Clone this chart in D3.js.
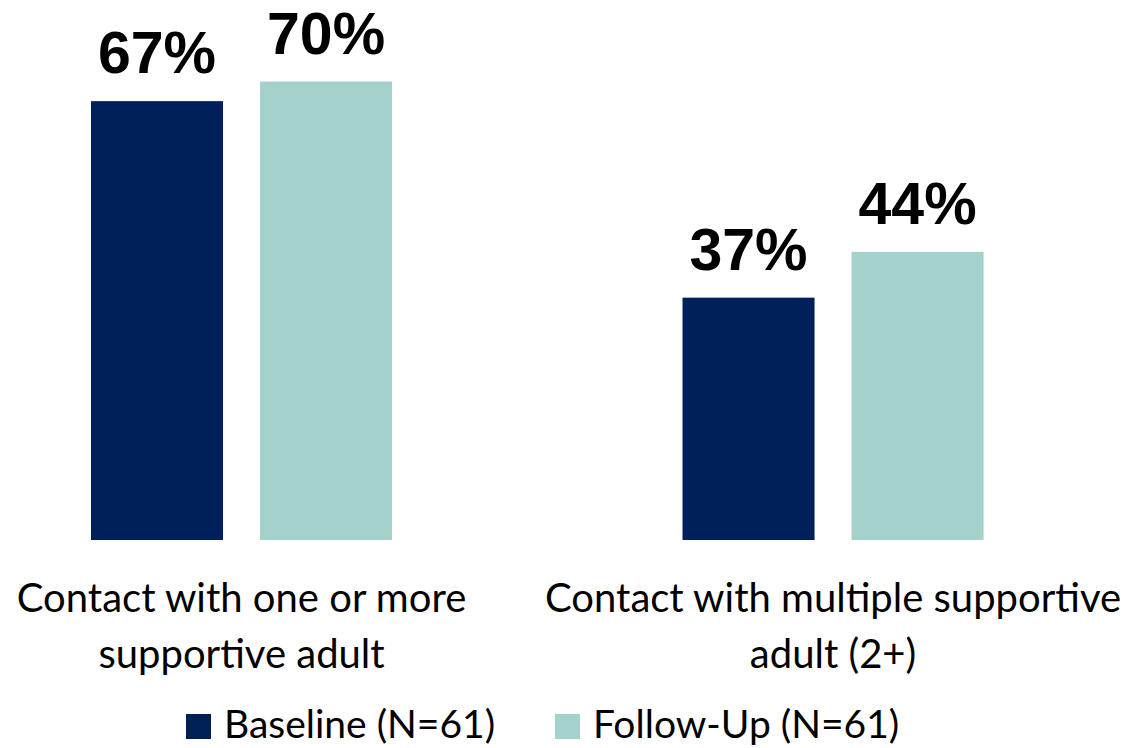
<!DOCTYPE html>
<html>
<head>
<meta charset="utf-8">
<script src="https://cdn.jsdelivr.net/npm/d3@7"></script>
<style>
  html, body { margin: 0; padding: 0; background: #fff; }
  svg { display: block; }
</style>
</head>
<body>
<svg id="chart" width="1133" height="748"></svg>
<script>
const categories = [
  ["Contact with one or more", "supportive adult"],
  ["Contact with multiple supportive", "adult (2+)"]
];
const categoryKeys = ["one", "multiple"];
const seriesNames = ["Baseline (N=61)", "Follow-Up (N=61)"];
const baseline = [67, 37];
const followUp = [70, 44];
const colors = ["#00205B", "#A3D2CC"];

const svg = d3.select("#chart");

const x0 = d3.scaleBand().domain(categoryKeys).range([91, 983.6]).paddingInner(0.491).paddingOuter(0);
const x1 = d3.scaleBand().domain(seriesNames).range([0, x0.bandwidth()]).paddingInner(0.219).paddingOuter(0);
const y = d3.scaleLinear().domain([0, 100]).range([540, -115]);
const color = d3.scaleOrdinal().domain(seriesNames).range(colors);

const data = categoryKeys.map((k, i) => ({
  key: k,
  label: categories[i],
  values: [
    { series: seriesNames[0], value: baseline[i] },
    { series: seriesNames[1], value: followUp[i] }
  ]
}));

const groups = svg.selectAll("g.group").data(data).join("g")
  .attr("class", "group")
  .attr("transform", d => `translate(${x0(d.key)},0)`);

groups.selectAll("rect").data(d => d.values).join("rect")
  .attr("x", d => x1(d.series))
  .attr("y", d => y(d.value))
  .attr("width", x1.bandwidth())
  .attr("height", d => y(0) - y(d.value))
  .attr("fill", d => color(d.series));

groups.selectAll("text.val").data(d => d.values).join("text")
  .attr("class", "val")
  .attr("x", d => x1(d.series) + x1.bandwidth() / 2)
  .attr("y", d => y(d.value) - 28)
  .attr("text-anchor", "middle")
  .style("font-family", "'Liberation Sans', Arial, sans-serif")
  .style("font-weight", "700")
  .style("font-size", "59px")
  .attr("fill", "#000")
  .text(d => d.value + "%");

const catLabels = svg.selectAll("text.cat").data(data).join("text")
  .attr("class", "cat")
  .attr("x", d => x0(d.key) + x0.bandwidth() / 2)
  .attr("y", 612)
  .attr("text-anchor", "middle")
  .style("font-family", "Lato, 'Open Sans', sans-serif")
  .style("font-size", "40px")
  .attr("fill", "#000");
catLabels.selectAll("tspan").data(d => d.label).join("tspan")
  .attr("x", function() { return d3.select(this.parentNode).attr("x"); })
  .attr("dy", (d, i) => i === 0 ? 0 : 56)
  .text(d => d);

const legendX = [186, 555];
const legend = svg.selectAll("g.legend").data(seriesNames).join("g")
  .attr("class", "legend")
  .attr("transform", (d, i) => `translate(${legendX[i]},714)`);
legend.append("rect")
  .attr("width", 25).attr("height", 25)
  .attr("fill", d => color(d));
legend.append("text")
  .attr("x", 38).attr("y", 24)
  .style("font-family", "Lato, 'Open Sans', sans-serif")
  .style("font-size", "39px")
  .attr("fill", "#000")
  .text(d => d);
</script>
</body>
</html>
